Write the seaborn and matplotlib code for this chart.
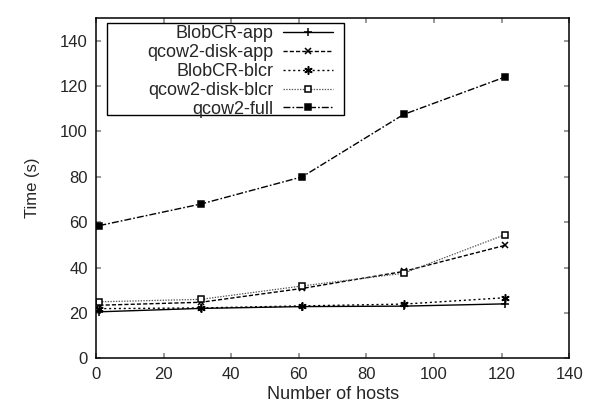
import pandas as pd
import numpy as np
import matplotlib
matplotlib.use('Agg')
import matplotlib.pyplot as plt
import seaborn as sns

hosts = [1, 31, 61, 91, 121]
blobcr_app = [20.5, 22.0, 22.8, 23.0, 24.0]
qcow2_disk_app = [23.4, 24.7, 30.8, 38.3, 49.8]
blobcr_blcr = [21.9, 22.2, 23.1, 23.9, 26.7]
qcow2_disk_blcr = [24.9, 26.0, 31.9, 37.5, 54.5]
qcow2_full = [58.5, 68.0, 80.0, 107.5, 124.0]

series = {
    'BlobCR-app': blobcr_app,
    'qcow2-disk-app': qcow2_disk_app,
    'BlobCR-blcr': blobcr_blcr,
    'qcow2-disk-blcr': qcow2_disk_blcr,
    'qcow2-full': qcow2_full,
}

df = pd.DataFrame([(k, h, v) for k, vals in series.items() for h, v in zip(hosts, vals)],
                  columns=['series', 'hosts', 'time'])

sns.set_style('ticks')
plt.rcParams['font.family'] = ['Liberation Sans', 'DejaVu Sans']
plt.rcParams['xtick.direction'] = 'in'
plt.rcParams['ytick.direction'] = 'in'

f = plt.figure(figsize=(5.89, 4.12), dpi=100)
ax = f.add_axes([0.163, 0.1303, 0.8036, 0.826])

# line style per series (gnuplot-like)
styles = {
    'BlobCR-app': dict(ls='-', marker='+', mfc='black', color='black', lw=1.0, ms=6),
    'qcow2-disk-app': dict(ls=(0, (3, 1.5)), marker='x', mfc='black', color='black', lw=1.0, ms=5),
    'BlobCR-blcr': dict(ls=(0, (1.5, 2)), marker=(6, 2, 0), mfc='black', color='black', lw=1.0, ms=6),
    'qcow2-disk-blcr': dict(ls=(0, (1.1, 1.1)), marker='s', mfc='white', color='#555555', lw=0.9, ms=4.5),
    'qcow2-full': dict(ls=(0, (5, 1.5, 1.2, 1.5)), marker='s', mfc='black', color='black', lw=1.0, ms=4.5),
}

for name in series:
    sub = df[df['series'] == name]
    st = styles[name]
    sns.lineplot(data=sub, x='hosts', y='time', ax=ax, label=name,
                 color=st['color'], linestyle=st['ls'], linewidth=st['lw'],
                 marker=st['marker'], markersize=st['ms'], markerfacecolor=st['mfc'],
                 markeredgecolor='black', markeredgewidth=1.1)

ax.set_xlim(0, 140)
ax.set_ylim(0, 150)
ax.set_xticks(range(0, 141, 20))
ax.set_yticks(range(0, 141, 20))
ax.tick_params(top=True, right=True, labelsize=12, length=3.5, width=1.2,
               color='#888888', pad=6)
ax.set_xlabel('Number of hosts', fontsize=13, labelpad=3)
ax.set_ylabel('Time (s)', fontsize=12, labelpad=14)
for s in ax.spines.values():
    s.set_linewidth(1.1)
    s.set_color('black')

# legend without frame, box drawn separately (gnuplot keeps extra space on the right)
leg = ax.legend(loc='upper right', bbox_to_anchor=(0.5014, 0.978), markerfirst=False,
                fontsize=13, frameon=False, handlelength=2.77, labelspacing=0.1,
                borderpad=0.0, handletextpad=0.55, borderaxespad=0)
for t in leg.get_texts():
    t.set_ha('right')
leg._legend_box.align = 'right'
ax.add_patch(plt.Rectangle((0.0226, 0.715), 0.502, 0.2694, transform=ax.transAxes,
                           fill=False, edgecolor='black', linewidth=1.0, zorder=5))

plt.savefig('out.png', dpi=100)
